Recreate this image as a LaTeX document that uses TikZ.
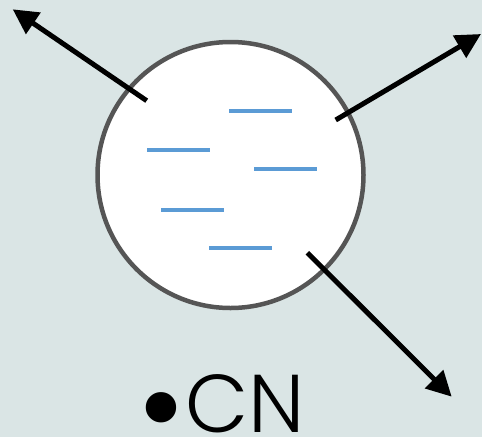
\documentclass[tikz,border=0pt]{standalone}
\usepackage{fontspec}
\setmainfont{Poppins}[UprightFont=* Light]
\definecolor{BgGrey}{RGB}{218, 229, 229}
\definecolor{RimGrey}{RGB}{85, 85, 85}
\definecolor{DashBlue}{RGB}{91, 155, 213}
\usetikzlibrary{arrows.meta, positioning}

\begin{document}
\begin{tikzpicture}[x=1pt, y=-1pt,
	rim/.style={circle, draw=RimGrey, fill=white, line width=4.5pt, minimum size=266pt, inner sep=0pt},
	dash line/.style={DashBlue, line width=4.5pt},
	out arrow/.style={line width=5pt, -{Triangle[length=25pt, width=25pt]}}]
	\fill[BgGrey] (0,0) rectangle (482,437);
	\useasboundingbox (0,0) rectangle (482,437);
	\node[rim] (drop) at (230.5,175) {};
	% dashes inside the drop
	\draw[dash line] (229,111) -- ++(63,0);
	\draw[dash line] (147,150) -- ++(63,0);
	\draw[dash line] (254,169) -- ++(63,0);
	\draw[dash line] (161,210) -- ++(63,0);
	\draw[dash line] (209,248) -- ++(63,0);
	% arrows
	\coordinate (nwStart) at (146.7,100.7);
	\coordinate (nwEnd) at (12.7,9.3);
	\coordinate (neStart) at (335.7,120);
	\coordinate (neEnd) at (481,34);
	\coordinate (seStart) at (307.3,252.7);
	\coordinate (seEnd) at (451.7,396.7);
	\draw[out arrow] (nwStart) -- (nwEnd);
	\draw[out arrow] (neStart) -- (neEnd);
	\draw[out arrow] (seStart) -- (seEnd);
	\node[anchor=base west, inner sep=0pt, text depth=0pt, text height=58pt, font=\fontsize{82}{82}\selectfont] (label) at (137,432) {\raisebox{-19pt}{\scalebox{1.6}{•}}CN};
\end{tikzpicture}
\end{document}
